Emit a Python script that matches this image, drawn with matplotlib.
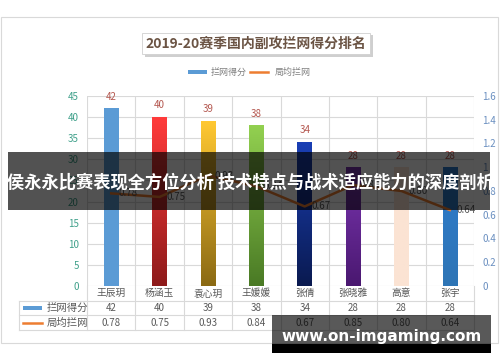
import numpy as np
import matplotlib
matplotlib.use("Agg")
import matplotlib.pyplot as plt
from matplotlib.patches import Rectangle
from matplotlib.lines import Line2D
from matplotlib.colors import LinearSegmentedColormap

plt.rcParams['font.family'] = ['Noto Sans CJK SC', 'DejaVu Sans']

# data
players = ['王辰玥', '杨涵玉', '袁心玥', '王媛媛', '张倩', '张晓雅', '高意', '张宇']
block_pts = [42, 40, 39, 38, 34, 28, 28, 28]
block_avg = [0.78, 0.75, 0.93, 0.84, 0.67, 0.85, 0.80, 0.64]
title = '2019-20赛季国内副攻拦网得分排名'
series_names = ['拦网得分', '局均拦网']
banner = '侯永永比赛表现全方位分析 技术特点与战术适应能力的深度剖析'
watermark = 'www.on-imgaming.com'

# bar colours (bottom, top) for the gradient fill
bar_cols = [('#5B9BD5', '#5B9BD5'), ('#8E1B1B', '#FF3B3B'), ('#8B6A14', '#FFC832'),
            ('#4A7A25', '#92D050'), ('#0A1A50', '#1A3FB5'), ('#4A1870', '#7A35B0'),
            ('#FBE3D3', '#FBE3D3'), ('#2E75B6', '#2E7BCB')]

W, H = 500, 362
fig = plt.figure(figsize=(W/100, H/100), dpi=100)

def fx(x):
    return x / W

def fy(y):
    return 1 - y / H

# outer chart frame
fig.patches.append(Rectangle((fx(1), fy(343)), fx(497), (343-17)/H, transform=fig.transFigure,
                             fc='white', ec='#D9D9D9', lw=0.8, zorder=-5))

# main plot
ax = fig.add_axes([fx(87), fy(286), (474-87)/W, (286-96)/H])
ax2 = ax.twinx()
n = len(players)
xs = np.arange(n) + 0.5
bw = 0.3
grad = np.linspace(0, 1, 100).reshape(-1, 1)
for i, (x, v) in enumerate(zip(xs, block_pts)):
    cm = LinearSegmentedColormap.from_list('b%d' % i, list(bar_cols[i]))
    ax.imshow(grad, extent=[x-bw/2, x+bw/2, 0, v], origin='lower', cmap=cm,
              aspect='auto', zorder=2)
    ax.annotate(str(v), (x, v), xytext=(0, 5), textcoords='offset points',
                ha='center', va='bottom', fontsize=7, color='#B4574F')
ax.set_xlim(0, n)
ax.set_ylim(0, 45)
ax.set_yticks(range(0, 46, 5))
ax.set_xticks(range(0, n+1))
ax.set_xticklabels([])
ax.grid(color='#D9D9D9', lw=0.8)
ax.set_axisbelow(True)
ax.tick_params(axis='y', length=0, labelsize=7, labelcolor='#3FA08A', pad=6)
ax.tick_params(axis='x', length=0)
for s in ax.spines.values():
    s.set_visible(False)

ax2.plot(xs, block_avg, color='#ED7D31', lw=1.8, zorder=3)
for x, v in zip(xs, block_avg):
    ax2.annotate('%.2f' % v, (x, v), xytext=(5, 0), textcoords='offset points',
                 ha='left', va='center', fontsize=7, color='#595959')
ax2.set_ylim(0, 1.6)
ax2.set_yticks(np.arange(0, 1.61, 0.2))
ax2.set_yticklabels(['%g' % round(t, 1) for t in np.arange(0, 1.61, 0.2)])
ax2.tick_params(axis='y', length=0, labelsize=7, labelcolor='#6A8FC0', pad=6)
for s in ax2.spines.values():
    s.set_visible(False)

# data table under the plot
tax = fig.add_axes([fx(19), fy(330), (474-19)/W, (330-286)/H])
left = -(87-19)/((474-87)/n)
tax.set_xlim(left, n)
tax.set_ylim(0, 3)
tax.axis('off')
gc = '#D9D9D9'
for yy in [0, 1, 2]:
    tax.plot([left, n], [yy, yy], color=gc, lw=0.8, clip_on=False)
for xx in range(n+1):
    tax.plot([xx, xx], [0, 3], color=gc, lw=0.8, clip_on=False)
tax.plot([left, left], [0, 2], color=gc, lw=0.8, clip_on=False)
for x, p, a, b in zip(xs, players, block_pts, block_avg):
    tax.text(x, 2.5, p, ha='center', va='center', fontsize=7, color='#595959')
    tax.text(x, 1.5, str(a), ha='center', va='center', fontsize=7, color='#595959')
    tax.text(x, 0.5, '%.2f' % b, ha='center', va='center', fontsize=7, color='#595959')
tax.add_patch(Rectangle((left+0.08, 1.38), 0.4, 0.24, fc='#5B9BD5', ec='none', clip_on=False))
tax.plot([left+0.08, left+0.48], [0.5, 0.5], color='#ED7D31', lw=1.8, clip_on=False)
tax.text(left+0.57, 1.5, series_names[0], ha='left', va='center', fontsize=7.5, color='#595959')
tax.text(left+0.57, 0.5, series_names[1], ha='left', va='center', fontsize=7.5, color='#595959')

# title with shadowed box
fig.patches.append(Rectangle((fx(145), fy(57)), 228/W, 22/H, transform=fig.transFigure,
                             fc='#CFCFCF', ec='none', zorder=2))
fig.patches.append(Rectangle((fx(142), fy(54)), 228/W, 21/H, transform=fig.transFigure,
                             fc='white', ec='#D0D0D0', lw=0.6, zorder=3))
fig.text(fx(256), fy(44), title, ha='center', va='center', fontsize=10,
         fontweight='bold', color='#6B5444', zorder=4)

# legend
fig.patches.append(Rectangle((fx(188), fy(74)), 19/W, 4/H, transform=fig.transFigure,
                             fc='#5B9BD5', ec='none', zorder=3))
fig.text(fx(211), fy(72), series_names[0], ha='left', va='center', fontsize=6.5, color='#7F7F7F')
fig.lines.append(Line2D([fx(250), fx(268)], [fy(72), fy(72)], transform=fig.transFigure,
                        color='#ED7D31', lw=1.8))
fig.text(fx(275), fy(72), series_names[1], ha='left', va='center', fontsize=6.5, color='#7F7F7F')

# overlay banner
fig.patches.append(Rectangle((fx(8), fy(210)), (490-8)/W, (210-152)/H, transform=fig.transFigure,
                             fc='black', alpha=0.68, ec='none', zorder=10))
fig.text(fx(250), fy(183), banner, ha='center', va='center', fontsize=12.4,
         fontweight='bold', color='white', zorder=11)

# watermark
fig.patches.append(Rectangle((fx(272), fy(344)), (491-272)/W, (344-315)/H, transform=fig.transFigure,
                             fc='black', alpha=0.65, ec='none', zorder=10))
fig.patches.append(Rectangle((fx(272), fy(353)), (491-272)/W, 9/H, transform=fig.transFigure,
                             fc='black', ec='none', zorder=10))
fig.text(fx(382), fy(336), watermark, ha='center', va='center', fontsize=11,
         fontweight='bold', color='white', family='DejaVu Sans', zorder=11)

fig.savefig('out.png', dpi=100)
